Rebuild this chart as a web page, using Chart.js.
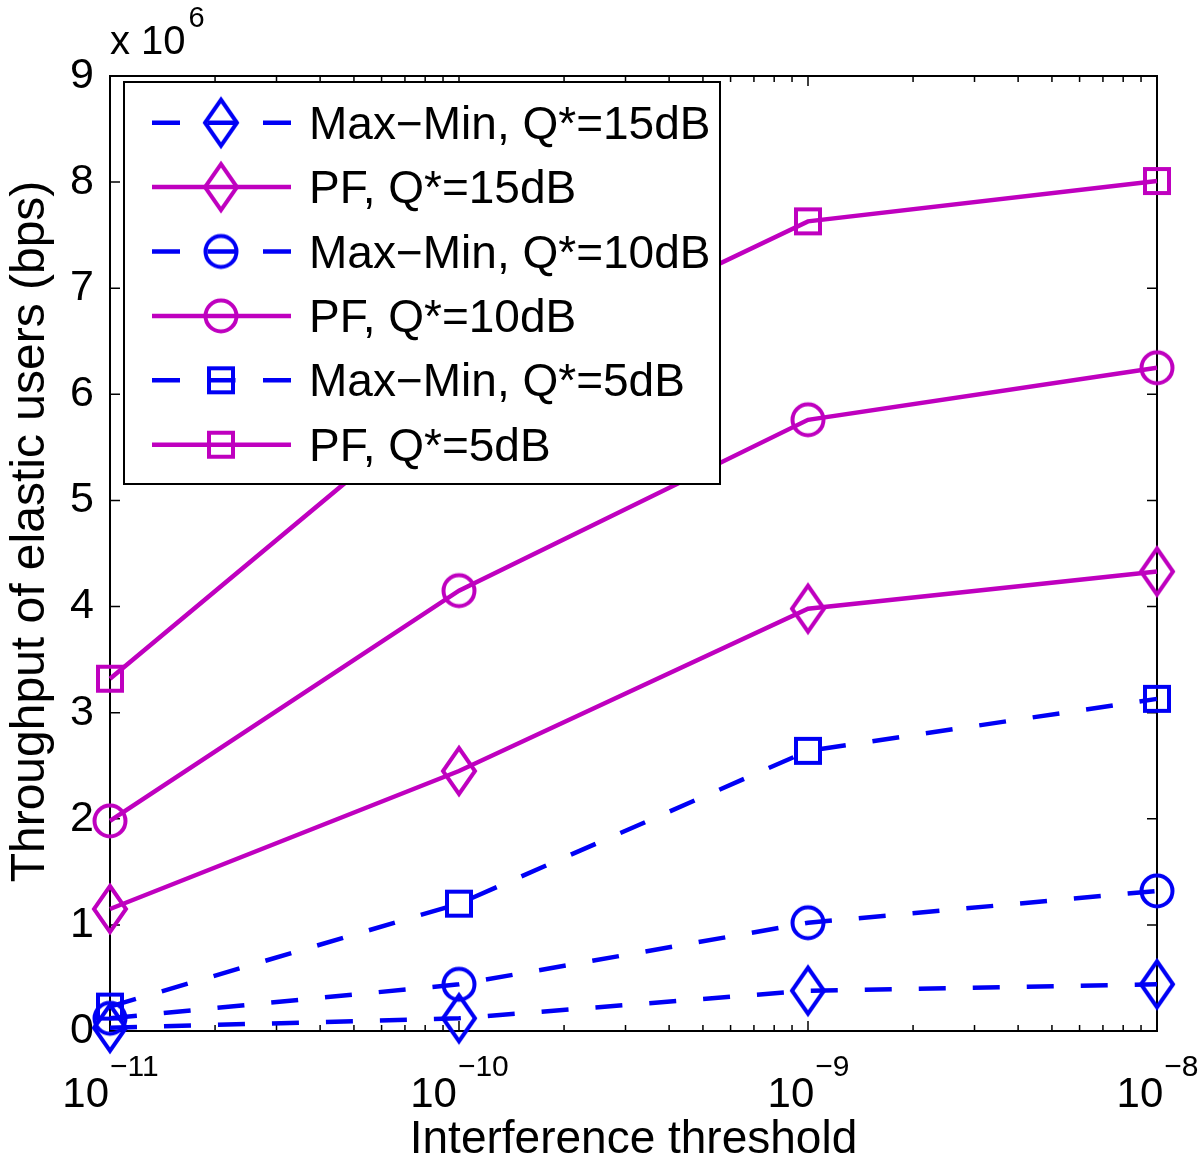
<!DOCTYPE html>
<html>
<head>
<meta charset="utf-8">
<title>Throughput of elastic users</title>
<script src="https://cdn.jsdelivr.net/npm/chart.js"></script>
<style>
  html, body { margin: 0; padding: 0; background: #fff; }
  #chart { display: block; }
</style>
</head>
<body>
<canvas id="chart" width="1200" height="1167"></canvas>
<script>
// x: interference threshold, y: throughput in units of 10^6 bps
const thresholds = [1e-11, 1e-10, 1e-9, 1e-8];
const xTickExponents = ['\u221211', '\u221210', '\u22129', '\u22128'];
const minorMultipliers = [2, 3, 4, 5, 6, 7, 8, 9];
const yTicks = [0, 1, 2, 3, 4, 5, 6, 7, 8, 9];

const maxMin15 = [0.03, 0.12, 0.38, 0.44];
const pf15     = [1.15, 2.45, 3.98, 4.33];
const maxMin10 = [0.12, 0.44, 1.02, 1.32];
const pf10     = [1.98, 4.15, 5.76, 6.25];
const maxMin5  = [0.23, 1.20, 2.64, 3.13];
const pf5      = [3.32, 6.06, 7.63, 8.01];

const seriesLabels = [
  'Max\u2212Min, Q*=15dB', 'PF, Q*=15dB',
  'Max\u2212Min, Q*=10dB', 'PF, Q*=10dB',
  'Max\u2212Min, Q*=5dB',  'PF, Q*=5dB'
];
const yTitle = 'Throughput of elastic users (bps)';

const FONT = '"Liberation Sans", Arial, Helvetica, sans-serif';
const BLUE = '#0000f5';
const MAGENTA = '#bf00bf';

// hollow marker images, used both on the lines and in the legend
function marker(shape, color) {
  const c = document.createElement('canvas');
  c.width = 44; c.height = 56;
  const g = c.getContext('2d');
  g.strokeStyle = color;
  g.lineWidth = 4;
  g.beginPath();
  if (shape === 'diamond') {
    g.moveTo(22, 5); g.lineTo(38, 28); g.lineTo(22, 51); g.lineTo(6, 28); g.closePath();
  } else if (shape === 'circle') {
    g.arc(22, 28, 15.5, 0, Math.PI * 2);
  } else {
    g.rect(10, 16, 24, 24);
  }
  g.stroke();
  return c;
}

function series(label, values, color, shape, dashed) {
  return {
    label,
    data: thresholds.map((x, i) => ({x, y: values[i]})),
    borderColor: color,
    borderWidth: 4.5,
    borderDash: dashed ? [27, 27] : [],
    pointStyle: marker(shape, color),
    pointBackgroundColor: 'transparent',
    pointBorderColor: color,
    fill: false,
    tension: 0,
    clip: false,
    dashed
  };
}

// axis box with inward ticks, x tick labels with exponents, y title and the x 10^6 note
const axesBox = {
  id: 'axesBox',
  beforeDatasetsDraw(chart) {
    const {ctx, chartArea: a, scales: {x, y}} = chart;
    ctx.save();
    ctx.strokeStyle = '#000';
    ctx.lineWidth = 2;
    ctx.strokeRect(a.left, a.top, a.right - a.left, a.bottom - a.top);
    ctx.lineWidth = 1.5;
    ctx.beginPath();
    y.ticks.forEach(t => {
      const py = y.getPixelForValue(t.value);
      ctx.moveTo(a.left, py); ctx.lineTo(a.left + 10, py);
      ctx.moveTo(a.right, py); ctx.lineTo(a.right - 10, py);
    });
    thresholds.forEach((d, k) => {
      const px = x.getPixelForValue(d);
      ctx.moveTo(px, a.bottom); ctx.lineTo(px, a.bottom - 10);
      ctx.moveTo(px, a.top); ctx.lineTo(px, a.top + 10);
      if (k === thresholds.length - 1) return;
      minorMultipliers.forEach(m => {
        const mx = x.getPixelForValue(m * d);
        ctx.moveTo(mx, a.bottom); ctx.lineTo(mx, a.bottom - 6);
        ctx.moveTo(mx, a.top); ctx.lineTo(mx, a.top + 6);
      });
    });
    ctx.stroke();

    ctx.fillStyle = '#000';
    ctx.textBaseline = 'alphabetic';
    ctx.textAlign = 'left';
    thresholds.forEach((d, k) => {
      const px = x.getPixelForValue(d);
      ctx.font = '42px ' + FONT;
      const wBase = ctx.measureText('10').width;
      ctx.font = '30px ' + FONT;
      const wExp = ctx.measureText(xTickExponents[k]).width;
      const x0 = px - (wBase + wExp) / 2;
      ctx.font = '42px ' + FONT;
      ctx.fillText('10', x0, a.bottom + 76);
      ctx.font = '30px ' + FONT;
      ctx.fillText(xTickExponents[k], x0 + wBase + 1, a.bottom + 45);
    });

    ctx.font = '40px ' + FONT;
    ctx.fillText('x 10', a.left, a.top - 22);
    const wx = ctx.measureText('x 10').width;
    ctx.font = '29px ' + FONT;
    ctx.fillText('6', a.left + wx + 3, a.top - 49);

    ctx.font = '48px ' + FONT;
    ctx.textAlign = 'center';
    ctx.textBaseline = 'middle';
    ctx.translate(31, (a.top + a.bottom) / 2 - 22);
    ctx.rotate(-Math.PI / 2);
    ctx.fillText(yTitle, 0, 0);
    ctx.restore();
  }
};

// boxed legend inside the axes, drawn over the lines
const boxLegend = {
  id: 'boxLegend',
  afterDatasetsDraw(chart) {
    const {ctx, chartArea: a} = chart;
    const left = a.left + 14, top = a.top + 6, w = 596, h = 402;
    ctx.save();
    ctx.fillStyle = '#fff';
    ctx.fillRect(left, top, w, h);
    ctx.strokeStyle = '#000';
    ctx.lineWidth = 2;
    ctx.strokeRect(left, top, w, h);
    chart.data.datasets.forEach((ds, i) => {
      const cy = top + 40.7 + i * 64.4;
      ctx.strokeStyle = ds.borderColor;
      ctx.lineWidth = ds.borderWidth;
      ctx.setLineDash(ds.dashed ? [28, 27.5] : []);
      ctx.beginPath();
      ctx.moveTo(left + 28, cy);
      ctx.lineTo(left + 167, cy);
      ctx.stroke();
      ctx.setLineDash([]);
      const img = ds.pointStyle;
      ctx.drawImage(img, left + 97 - img.width / 2, cy - img.height / 2);
      ctx.fillStyle = '#000';
      ctx.font = '46px ' + FONT;
      ctx.textBaseline = 'alphabetic';
      ctx.fillText(ds.label, left + 185, cy + 16);
    });
    ctx.restore();
  }
};

new Chart(document.getElementById('chart'), {
  type: 'line',
  data: {
    datasets: [
      series(seriesLabels[0], maxMin15, BLUE, 'diamond', true),
      series(seriesLabels[1], pf15, MAGENTA, 'diamond', false),
      series(seriesLabels[2], maxMin10, BLUE, 'circle', true),
      series(seriesLabels[3], pf10, MAGENTA, 'circle', false),
      series(seriesLabels[4], maxMin5, BLUE, 'square', true),
      series(seriesLabels[5], pf5, MAGENTA, 'square', false)
    ]
  },
  options: {
    responsive: false,
    animation: false,
    devicePixelRatio: 1,
    layout: { padding: { top: 76, right: 43, left: 0, bottom: 0 } },
    plugins: { legend: { display: false }, tooltip: { enabled: false } },
    scales: {
      x: {
        type: 'logarithmic',
        min: thresholds[0],
        max: thresholds[thresholds.length - 1],
        afterBuildTicks: s => { s.ticks = thresholds.map(v => ({value: v})); },
        afterFit: s => { s.height = 136; },
        grid: { display: false, drawTicks: false },
        border: { display: false },
        ticks: { display: false },
        title: {
          display: true,
          text: 'Interference threshold',
          color: '#000',
          font: { family: FONT, size: 46, lineHeight: 1 },
          padding: { top: 4, bottom: 4 }
        }
      },
      y: {
        min: 0,
        max: 9,
        afterBuildTicks: s => { s.ticks = yTicks.map(v => ({value: v})); },
        afterFit: s => { s.width = 110; },
        grid: { display: false, drawTicks: false },
        border: { display: false },
        ticks: { color: '#000', padding: 16, font: { family: FONT, size: 43 } }
      }
    }
  },
  plugins: [axesBox, boxLegend]
});
</script>
</body>
</html>
